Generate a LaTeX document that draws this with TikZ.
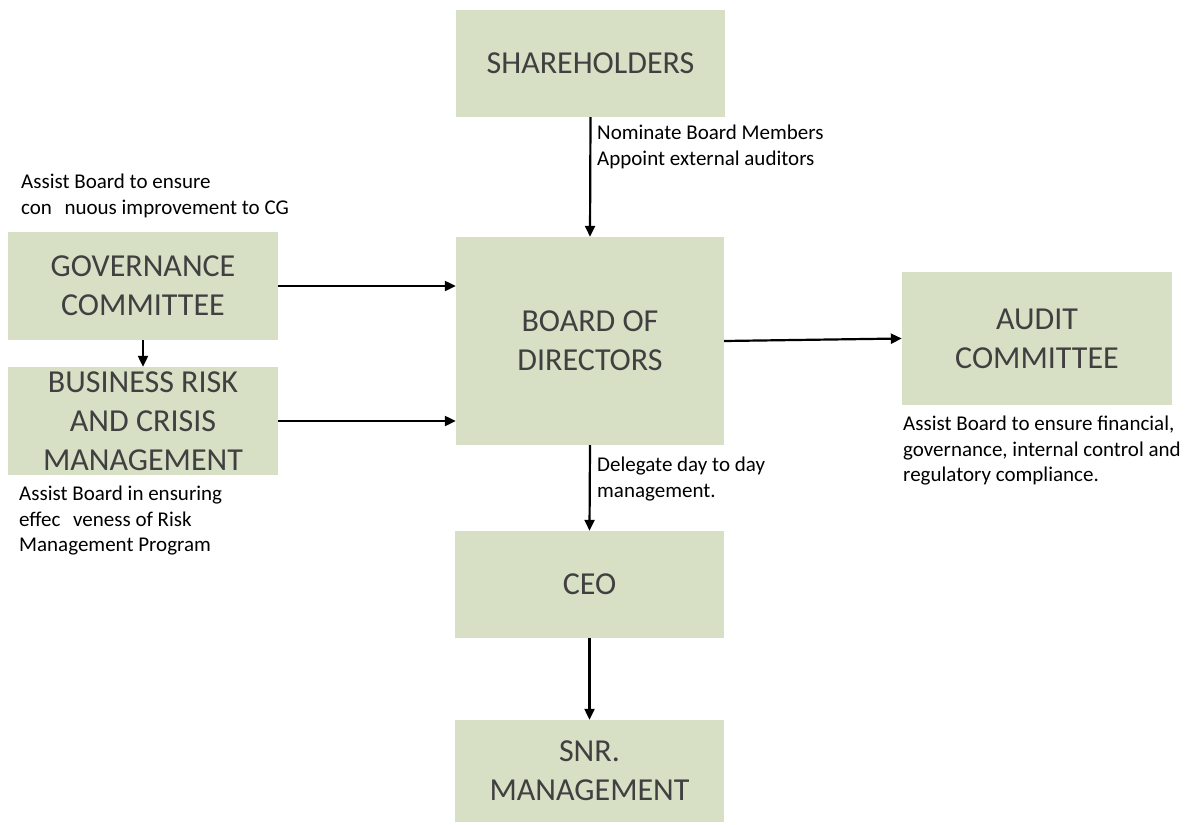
\documentclass[tikz,border=0pt]{standalone}
\usepackage{fontspec}
\setmainfont{Carlito}
\usetikzlibrary{arrows.meta}
\definecolor{boxfill}{HTML}{D7DFC5}
\definecolor{boxtext}{HTML}{404040}
\tikzset{
  orgbox/.style={fill=boxfill, draw=none, text=boxtext, align=center, inner sep=0pt,
    font=\fontsize{32}{39}\selectfont},
  caption/.style={anchor=west, align=left, inner sep=0pt, text=black,
    font=\fontsize{21}{25.5}\selectfont},
  arr/.style={line width=2.2pt, -{Triangle[length=11pt,width=10pt]}}
}
\newcommand{\tigap}{\hspace{0.6em}}
\begin{document}
\begin{tikzpicture}[x=1pt,y=-1pt]
\useasboundingbox (0,0) rectangle (1185,824);
\node[orgbox, minimum width=269pt, minimum height=107pt] (sh) at (590.5,63.5) {SHAREHOLDERS};
\node[orgbox, minimum width=268pt, minimum height=208pt] (bd) at (590,341) {BOARD OF\\DIRECTORS};
\node[orgbox, minimum width=270pt, minimum height=108pt] (gov) at (143,286) {GOVERNANCE\\COMMITTEE};
\node[orgbox, minimum width=270pt, minimum height=108pt] (biz) at (143,421) {BUSINESS RISK\\AND CRISIS\\MANAGEMENT};
\node[orgbox, minimum width=270pt, minimum height=133pt] (au) at (1037,338.5) {AUDIT\\COMMITTEE};
\node[orgbox, minimum width=269pt, minimum height=107pt] (ceo) at (589.5,584.5) {CEO};
\node[orgbox, minimum width=269pt, minimum height=102pt] (snr) at (589.5,771) {SNR.\\MANAGEMENT};

\draw[arr] (sh.south) -- (bd.north);
\draw[arr] (gov.east) -- (gov.east -| bd.west);
\draw[arr] (biz.east) -- (biz.east -| bd.west);
\draw[arr] (gov.south) -- (biz.north);
\draw[arr] (bd.east) -- (au.west);
\draw[arr] (bd.south) -- (ceo.north);
\draw[arr] (ceo.south) -- (snr.north);

\node[caption] (capsh) at (597,147) {Nominate Board Members\\Appoint external auditors};
\node[caption] (capgov) at (21,196) {Assist Board to ensure\\con\tigap nuous improvement to CG};
\node[caption] (capbiz) at (19,521) {Assist Board in ensuring\\effec\tigap veness of Risk\\Management Program};
\node[caption] (capbd) at (597,479) {Delegate day to day\\management.};
\node[caption] (capau) at (903,451) {Assist Board to ensure financial,\\governance, internal control and\\regulatory compliance.};
\end{tikzpicture}
\end{document}
